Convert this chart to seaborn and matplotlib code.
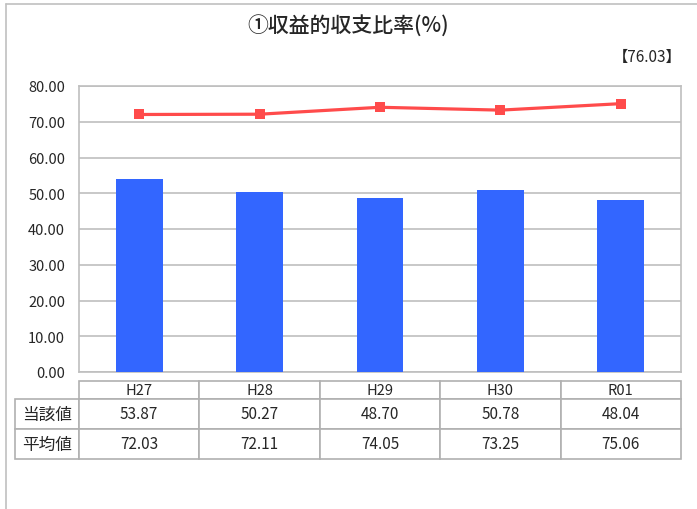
import matplotlib
matplotlib.use("Agg")
import matplotlib.pyplot as plt
import seaborn as sns
import pandas as pd
from matplotlib.lines import Line2D

# data
years = ["H27", "H28", "H29", "H30", "R01"]
own_vals = [53.87, 50.27, 48.70, 50.78, 48.04]
avg_vals = [72.03, 72.11, 74.05, 73.25, 75.06]
row_labels = ["当該値", "平均値"]
title = "①収益的収支比率(%)"
ref_note = "【76.03】"

sns.set_theme(style="white")
plt.rcParams["font.family"] = ["Noto Sans CJK JP", "DejaVu Sans"]

W, H = 697, 510
fig = plt.figure(figsize=(W / 100, H / 100), dpi=100)

# outer frame (top and left edge)
fig.add_artist(Line2D([6 / W, 6 / W], [0, 1 - 5 / H], color="#c0c0c0", lw=1.2))
fig.add_artist(Line2D([6 / W, 1], [1 - 5 / H, 1 - 5 / H], color="#c0c0c0", lw=1.2))

left, right, top, bottom = 79, 681, 87, 373
ax = fig.add_axes([left / W, 1 - bottom / H, (right - left) / W, (bottom - top) / H])

df = pd.DataFrame({"year": years, "own": own_vals, "avg": avg_vals})
sns.barplot(data=df, x="year", y="own", color="#3366ff", saturation=1, width=0.39,
            linewidth=0, ax=ax, zorder=3)
sns.pointplot(data=df, x="year", y="avg", color="#ff4b4b", markers="s", markersize=7.5,
              markeredgewidth=0, linewidth=2.3, ax=ax, zorder=4)

ax.set_ylim(0, 80)
ax.set_yticks(range(0, 81, 10))
ax.set_yticklabels([f"{v:.2f}" for v in range(0, 81, 10)], fontsize=10.5)
ax.tick_params(axis="y", length=0, pad=10)
ax.set_xticks([])
ax.set_xlabel("")
ax.set_ylabel("")
ax.set_xlim(-0.5, 4.5)
ax.yaxis.grid(True, color="#bfbfbf", lw=1.2)
ax.set_axisbelow(True)
for s in ax.spines.values():
    s.set_color("#bfbfbf")
    s.set_linewidth(1.2)

# data table under the chart
cell_text = [[row_labels[0]] + [f"{v:.2f}" for v in own_vals],
             [row_labels[1]] + [f"{v:.2f}" for v in avg_vals]]
tab_left, tab_right, tab_top, tab_bottom = 15, 681, 382, 460
pw = right - left
ph = bottom - top
bbox = [(tab_left - left) / pw, (bottom - tab_bottom) / ph,
        (tab_right - tab_left) / pw, (tab_bottom - tab_top) / ph]
col_w = [64] + [pw / 5] * 5
tbl = ax.table(cellText=cell_text, colLabels=[""] + years, colWidths=col_w,
               cellLoc="center", bbox=bbox)
tbl.auto_set_font_size(False)
for (r, c), cell in tbl.get_celld().items():
    cell.set_edgecolor("#b0b0b0")
    cell.set_linewidth(1.2)
    cell.get_text().set_fontsize(11 if c > 0 or r == 0 else 12)
    if r == 0:
        cell.set_height(18)
        cell.get_text().set_fontsize(10.5)
    else:
        cell.set_height(30)
    if r == 0 and c == 0:
        cell.set_edgecolor("none")

fig.text(0.5, 1 - 27 / H, title, ha="center", va="center", fontsize=15, fontweight="medium")
fig.text(682 / W, 1 - 57 / H, ref_note, ha="right", va="center", fontsize=11)

fig.savefig("out.png", dpi=100)
